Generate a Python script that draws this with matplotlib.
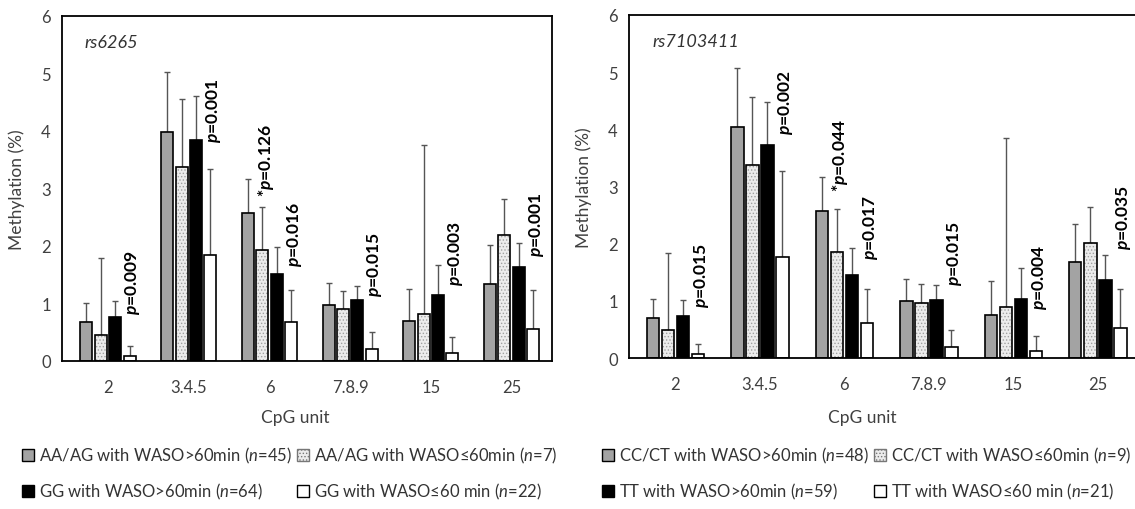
import matplotlib
matplotlib.use('Agg')
from matplotlib import pyplot as plt
from matplotlib.patches import Patch
import numpy as np

plt.rcParams['font.family'] = ['Lato', 'DejaVu Sans']
plt.rcParams['mathtext.fontset'] = 'custom'
plt.rcParams['mathtext.it'] = 'Lato:italic'
plt.rcParams['mathtext.rm'] = 'Lato'
plt.rcParams['mathtext.bfit'] = 'Lato:italic:bold'
plt.rcParams['hatch.linewidth'] = 0.6

cpg_units = ['2', '3.4.5', '6', '7.8.9', '15', '25']

# rs6265 panel: means and upper SD
rs6265_hi_ag = [0.68, 3.98, 2.57, 0.97, 0.69, 1.34]
rs6265_hi_ag_sd = [0.33, 1.05, 0.59, 0.38, 0.57, 0.68]
rs6265_lo_ag = [0.45, 3.38, 1.93, 0.90, 0.81, 2.20]
rs6265_lo_ag_sd = [1.35, 1.18, 0.75, 0.32, 2.95, 0.62]
rs6265_hi_gg = [0.77, 3.84, 1.52, 1.06, 1.14, 1.63]
rs6265_hi_gg_sd = [0.27, 0.77, 0.47, 0.24, 0.53, 0.43]
rs6265_lo_gg = [0.08, 1.85, 0.67, 0.21, 0.14, 0.56]
rs6265_lo_gg_sd = [0.18, 1.49, 0.57, 0.30, 0.27, 0.68]

# rs7103411 panel
rs7103411_hi_ct = [0.70, 4.04, 2.57, 1.00, 0.76, 1.68]
rs7103411_hi_ct_sd = [0.34, 1.03, 0.59, 0.39, 0.58, 0.67]
rs7103411_lo_ct = [0.49, 3.38, 1.85, 0.97, 0.90, 2.02]
rs7103411_lo_ct_sd = [1.34, 1.18, 0.76, 0.32, 2.94, 0.62]
rs7103411_hi_tt = [0.74, 3.73, 1.46, 1.02, 1.04, 1.37]
rs7103411_hi_tt_sd = [0.27, 0.75, 0.47, 0.25, 0.54, 0.43]
rs7103411_lo_tt = [0.07, 1.76, 0.62, 0.20, 0.13, 0.53]
rs7103411_lo_tt_sd = [0.17, 1.51, 0.59, 0.29, 0.26, 0.68]

# p-value labels: (group, bar, text, y where text starts)
rs6265_pvals = [(0, 3, 'p=0.009', 0.81), (1, 3, 'p=0.001', 3.80),
                (2, 1, '*p=0.126', 2.87), (2, 3, 'p=0.016', 1.65),
                (3, 3, 'p=0.015', 1.13), (4, 3, 'p=0.003', 1.33),
                (5, 3, 'p=0.001', 1.83)]
rs7103411_pvals = [(0, 3, 'p=0.015', 0.89), (1, 3, 'p=0.002', 3.92),
                   (2, 1, '*p=0.044', 2.93), (2, 3, 'p=0.017', 1.74),
                   (3, 3, 'p=0.015', 1.28), (4, 3, 'p=0.004', 0.86),
                   (5, 3, 'p=0.035', 1.91)]

rs6265_labels = [r'AA/AG with WASO>60min ($n$=45)', r'AA/AG with WASO≤60min ($n$=7)',
                 r'GG with WASO>60min ($n$=64)', r'GG with WASO≤60 min ($n$=22)']
rs7103411_labels = [r'CC/CT with WASO>60min ($n$=48)', r'CC/CT with WASO≤60min ($n$=9)',
                    r'TT with WASO>60min ($n$=59)', r'TT with WASO≤60 min ($n$=21)']

GRAY = '#a3a3a3'
DOT = '#ececec'
width = 0.148
pitch = 0.178


def draw_panel(ax, series, sds, pvals, name, xlim):
    x = np.arange(len(cpg_units))
    for i, (vals, sd) in enumerate(zip(series, sds)):
        xi = x + (i - 1.5) * pitch
        ax.errorbar(xi, vals, yerr=[np.zeros(len(sd)), sd], fmt='none',
                    ecolor='#555555', elinewidth=1, capsize=2.5, capthick=1, zorder=1)
        if i == 0:
            ax.bar(xi, vals, width, color=GRAY, edgecolor='black', linewidth=1.2, zorder=2)
        elif i == 1:
            ax.bar(xi, vals, width, color=DOT, edgecolor='#a0a0a0', hatch='.....',
                   linewidth=0, zorder=2)
            ax.bar(xi, vals, width, fill=False, edgecolor='black', linewidth=1.2, zorder=3)
        elif i == 2:
            ax.bar(xi, vals, width, color='black', edgecolor='black', linewidth=1.2, zorder=2)
        else:
            ax.bar(xi, vals, width, color='white', edgecolor='black', linewidth=1.2, zorder=2)

    for g, b, txt, y in pvals:
        star = '*' if txt.startswith('*') else ''
        label = star + r'$\mathbfit{p}$' + txt.lstrip('*')[1:]
        ax.text(g + (b - 1.5) * pitch + 0.04, y, label, rotation=90, ha='center',
                va='bottom', fontsize=12.5, fontweight='bold', zorder=4)

    ax.text(0.045, 0.925, name, transform=ax.transAxes, fontsize=13,
            style='italic', color='#333333', va='center')
    ax.set_xlim(*xlim)
    ax.set_ylim(0, 6)
    ax.set_xticks(x)
    ax.set_xticklabels(cpg_units)
    ax.set_yticks(range(7))
    ax.tick_params(length=0, labelsize=12, labelcolor='#404040', pad=8)
    ax.tick_params(axis='x', pad=13)
    ax.set_ylabel('Methylation (%)', fontsize=12.5, color='#404040', labelpad=12)
    for s in ax.spines.values():
        s.set_linewidth(1.3)


fig = plt.figure(figsize=(11.35, 5.10), dpi=100)
ax1 = fig.add_axes([62 / 1135, 148 / 510, 490 / 1135, 345 / 510])
ax2 = fig.add_axes([629 / 1135, 151 / 510, 511 / 1135, 343 / 510])

draw_panel(ax1, [rs6265_hi_ag, rs6265_lo_ag, rs6265_hi_gg, rs6265_lo_gg],
           [rs6265_hi_ag_sd, rs6265_lo_ag_sd, rs6265_hi_gg_sd, rs6265_lo_gg_sd],
           rs6265_pvals, 'rs6265', (-0.57, 5.5))
draw_panel(ax2, [rs7103411_hi_ct, rs7103411_lo_ct, rs7103411_hi_tt, rs7103411_lo_tt],
           [rs7103411_hi_ct_sd, rs7103411_lo_ct_sd, rs7103411_hi_tt_sd, rs7103411_lo_tt_sd],
           rs7103411_pvals, 'rs7103411', (-0.55, 5.5))

fig.text(295 / 1135, 1 - 418 / 510, 'CpG unit', ha='center', va='center',
         fontsize=12.5, color='#404040')
fig.text(862 / 1135, 1 - 418 / 510, 'CpG unit', ha='center', va='center',
         fontsize=12.5, color='#404040')


def handles():
    return [Patch(facecolor=GRAY, edgecolor='black', linewidth=1),
            Patch(facecolor='black', edgecolor='black', linewidth=1),
            Patch(facecolor=DOT, edgecolor='#777777', hatch='.....', linewidth=1),
            Patch(facecolor='white', edgecolor='black', linewidth=1)]


for lab, x0 in [(rs6265_labels, 14 / 1135), (rs7103411_labels, 594 / 1135)]:
    fig.legend(handles(), [lab[0], lab[2], lab[1], lab[3]], ncol=2, frameon=False,
               loc='upper left', bbox_to_anchor=(x0, 1 - 438 / 510),
               fontsize=12, handlelength=0.7, handleheight=0.7, handletextpad=0.3,
               columnspacing=0.3, labelspacing=0.95, borderpad=0, labelcolor='#333333')

fig.savefig('out.png', dpi=100)
